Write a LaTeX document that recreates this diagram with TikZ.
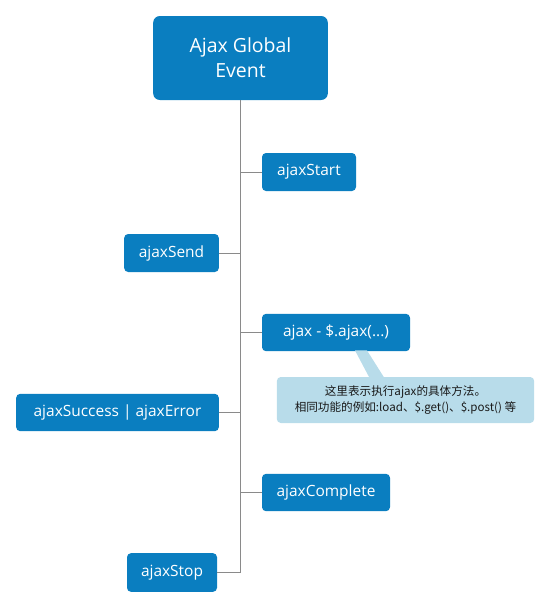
\documentclass[tikz,border=0pt]{standalone}
\usepackage{fontspec}
\setmainfont{Open Sans}
\newfontfamily\cjk{Noto Sans CJK SC}
\usetikzlibrary{calc}
\definecolor{evblue}{HTML}{0A7EC0}
\definecolor{notebg}{HTML}{B8DCEA}
\definecolor{linegray}{HTML}{8A8A8A}
\tikzset{
  evbox/.style  = {rounded corners=3pt, fill=evblue, text=white, align=center,
                   inner sep=2pt, font=\fontsize{11.6}{13}\selectfont},
  rootbox/.style = {evbox, rounded corners=5pt, font=\fontsize{14.6}{19}\selectfont},
  notebox/.style = {rounded corners=3pt, fill=notebg, align=center, inner sep=2pt,
                    text=black!90, font=\cjk\fontsize{8.7}{12}\selectfont},
  link/.style   = {draw=linegray, line width=0.6pt},
}

\begin{document}
\begin{tikzpicture}[x=0.75pt, y=-0.75pt]
  \useasboundingbox (0,0) rectangle (550,608);
  % root and events
  \node[rootbox, minimum width=131pt, minimum height=63pt] (root) at (240.5,58)
     {Ajax Global\\Event};
  \node[evbox, minimum width=70.5pt, minimum height=28.5pt] (start) at (309,172) {ajaxStart};
  \node[evbox, minimum width=71pt, minimum height=28.5pt] (send) at (171.5,253) {ajaxSend};
  \node[evbox, minimum width=111pt, minimum height=28pt] (ajax) at (336,332.5) {ajax - \$.ajax(...)};
  \node[evbox, minimum width=152pt, minimum height=28pt] (success) at (117.5,412.5)
     {ajaxSuccess | ajaxError};
  \node[evbox, minimum width=96pt, minimum height=28pt] (complete) at (326,492.5) {ajaxComplete};
  \node[evbox, minimum width=67.5pt, minimum height=29pt] (stop) at (172,572.5) {ajaxStop};
  \coordinate (trunkend) at (240.5,572.5);
  % trunk and branches
  \draw[link] (root.south) -- (trunkend);
  \foreach \ev in {start,ajax,complete}
    \draw[link] (\ev.west) -- (\ev.west -| root.south);
  \foreach \ev in {send,success,stop}
    \draw[link] (\ev.east) -- (\ev.east -| root.south);
  % callout
  \node[notebox, minimum width=193pt, minimum height=34.5pt] (note) at (405.5,400)
     {这里表示执行ajax的具体方法。\\相同功能的例如:load、\$.get()、\$.post() 等};
  \fill[notebg] ($(ajax.south)+(19,-1)$) -- ($(ajax.south)+(31,-1)$)
     -- ($(note.north)+(-20,3)$) -- ($(note.north)+(-35,3)$) -- cycle;
\end{tikzpicture}
\end{document}
